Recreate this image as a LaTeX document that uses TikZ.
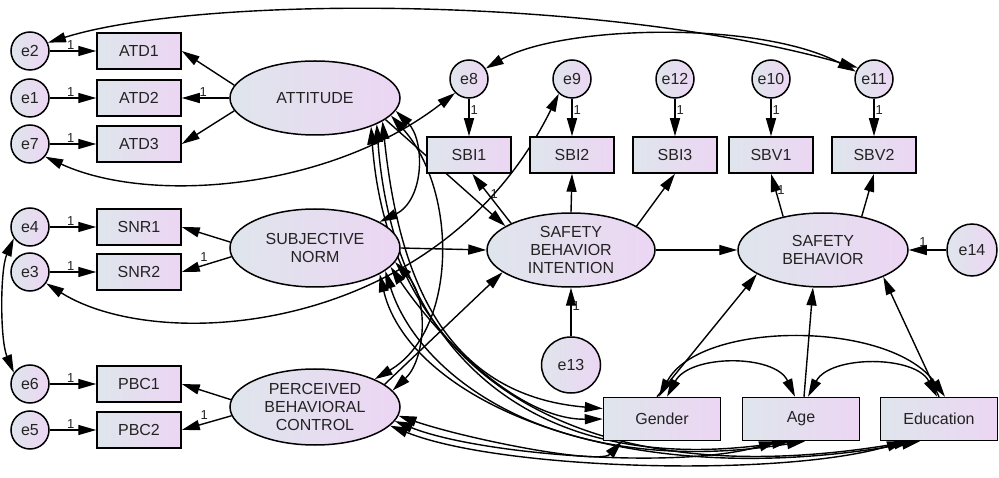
\documentclass[tikz,border=0pt]{standalone}
\usepackage{fontspec}
\setmainfont{Liberation Sans}
\usetikzlibrary{shapes.geometric,arrows.meta,calc}
\pgfdeclarelayer{bg}
\pgfsetlayers{bg,main}
\definecolor{lgray}{RGB}{223,229,236}
\definecolor{lpurp}{RGB}{236,214,243}
\definecolor{txt}{RGB}{35,35,35}
\begin{document}
\begin{tikzpicture}[x=1pt,y=-1pt,
  every node/.style={font=\fontsize{16}{18}\selectfont, text=txt},
  base/.style={draw=black, line width=1.5pt, left color=lgray, right color=lpurp, inner sep=0pt},
  errc/.style={base, ellipse, minimum width=38pt, minimum height=38pt},
  obs/.style={base, rectangle, minimum width=84pt, minimum height=36pt},
  demo/.style={base, rectangle, minimum width=117pt, minimum height=43pt},
  lat/.style={base, ellipse, minimum width=170pt, minimum height=74pt, align=center},
  arr/.style={line width=1.4pt, -{Triangle[length=18pt,width=10pt]}},
  biarr/.style={line width=1.4pt, {Triangle[length=18pt,width=10pt]}-{Triangle[length=18pt,width=10pt]}},
  one/.style={font=\fontsize{13}{14}\selectfont, inner sep=1pt},
]
\useasboundingbox (0,0) rectangle (999,478);

% left error terms and indicators
\node[errc] (e2) at (30,51) {e2};
\node[errc] (e1) at (30,98) {e1};
\node[errc] (e7) at (30,144) {e7};
\node[errc] (e4) at (30,227) {e4};
\node[errc] (e3) at (30,272) {e3};
\node[errc] (e6) at (30,384) {e6};
\node[errc] (e5) at (30,430) {e5};
\node[obs] (atd1) at (139,51) {ATD1};
\node[obs] (atd2) at (139,98) {ATD2};
\node[obs] (atd3) at (139,144) {ATD3};
\node[obs] (snr1) at (139,227) {SNR1};
\node[obs] (snr2) at (139,272) {SNR2};
\node[obs] (pbc1) at (139,384) {PBC1};
\node[obs] (pbc2) at (139,430) {PBC2};

% latents
\node[lat] (att) at (315,98) {ATTITUDE};
\node[lat, minimum height=78pt] (sn) at (315,248) {SUBJECTIVE\\NORM};
\node[lat, minimum height=76pt] (pbc) at (315,407) {PERCEIVED\\BEHAVIORAL\\CONTROL};
\node[lat, minimum width=168pt] (sbi) at (571,250) {SAFETY\\BEHAVIOR\\INTENTION};
\node[lat] (sb) at (823,250) {SAFETY\\BEHAVIOR};

% top error terms and indicators
\node[errc] (e8) at (469,79) {e8};
\node[errc] (e9) at (572,79) {e9};
\node[errc] (e12) at (675,79) {e12};
\node[errc] (e10) at (771,79) {e10};
\node[errc] (e11) at (874,79) {e11};
\node[obs] (sbi1) at (469,155) {SBI1};
\node[obs] (sbi2) at (572,155) {SBI2};
\node[obs] (sbi3) at (675,155) {SBI3};
\node[obs] (sbv1) at (771,155) {SBV1};
\node[obs] (sbv2) at (874,155) {SBV2};

\node[errc, minimum width=59pt, minimum height=56pt] (e13) at (571,365) {e13};
\node[errc, minimum width=50pt, minimum height=52pt] (e14) at (972,250) {e14};

\node[demo] (gender) at (662,419) {Gender};
\node[demo] (age) at (801,419) {Age};
\node[demo] (edu) at (939,419) {Education};

\coordinate (gB) at ($(gender.south)+(-40,0)$);
\coordinate (aB1) at ($(age.south)+(-24,0)$);
\coordinate (aB2) at ($(age.south)+(-11,0)$);
\coordinate (aB3) at ($(age.south)+(4,0)$);
\coordinate (eB1) at ($(edu.south)+(-34,0)$);
\coordinate (eB2) at ($(edu.south)+(-27,0)$);
\coordinate (eB3) at ($(edu.south)+(-19,0)$);

\begin{pgfonlayer}{bg}
% measurement errors
\draw[arr] (e2) -- node[one,pos=.45,above]{1} (atd1);
\draw[arr] (e1) -- node[one,pos=.45,above]{1} (atd2);
\draw[arr] (e7) -- node[one,pos=.45,above]{1} (atd3);
\draw[arr] (e4) -- node[one,pos=.45,above]{1} (snr1);
\draw[arr] (e3) -- node[one,pos=.45,above]{1} (snr2);
\draw[arr] (e6) -- node[one,pos=.45,above]{1} (pbc1);
\draw[arr] (e5) -- node[one,pos=.45,above]{1} (pbc2);
\draw[arr] (att.171) -- (atd1.east);
\draw[arr] (att.west) -- node[one,pos=.55,above]{1} (atd2.east);
\draw[arr] (att.189) -- (atd3.east);
\draw[arr] (sn.176) -- (snr1.east);
\draw[arr] (sn.186) -- node[one,pos=.55,above,yshift=2pt]{1} (snr2.east);
\draw[arr] (pbc.175) -- (pbc1.east);
\draw[arr] (pbc.186) -- node[one,pos=.55,above,yshift=2pt]{1} (pbc2.east);

\draw[arr] (e8) -- node[one,pos=.3,right]{1} (sbi1);
\draw[arr] (e9) -- node[one,pos=.3,right]{1} (sbi2);
\draw[arr] (e12) -- node[one,pos=.3,right]{1} (sbi3);
\draw[arr] (e10) -- node[one,pos=.3,right]{1} (sbv1);
\draw[arr] (e11) -- node[one,pos=.3,right]{1} (sbv2);
\draw[arr] (sbi.156) -- node[one,pos=.6,right,xshift=1pt]{1} (sbi1.-80);
\draw[arr] (sbi.north) -- (sbi2.south);
\draw[arr] (sbi.20) -- (sbi3.south);
\draw[arr] (sb.140) -- node[one,pos=.62,right]{1} (sbv1.south);
\draw[arr] (sb.41) -- (sbv2.south);

% structural paths
\draw[arr] (sbi) -- (sb);
\draw[arr] (e14) -- node[one,pos=.62,above,yshift=2pt]{1} (sb);
\draw[arr] (e13) -- node[one,pos=.62,right]{1} (sbi);
\draw[arr] (att.-17) -- (sbi.160);
\draw[arr] (sn.east) -- (sbi.west);
\draw[arr] (pbc.18) -- (sbi.198);
\draw[arr] ($(gender.north)+(-5,0)$) -- (sb.200);
\draw[arr] ($(age.north)+(3,0)$) -- (sb.255);
\draw[arr] (edu.north) -- (sb.-24);

% covariances among latents
\draw[biarr] (att.-9) .. controls (425,140) and (425,200) .. (sn.22);
\draw[biarr] (att.-13) .. controls (458,190) and (458,330) .. (pbc.25);
\draw[biarr] (sn.-10) .. controls (430,300) and (425,360) .. (pbc.12);
\draw[biarr] (att.-19) .. controls (398,270) and (440,395) .. (gender.170);
\draw[biarr] (att.-23) .. controls (392,340) and (520,480) .. (aB2);
\draw[biarr] (att.-27) .. controls (388,360) and (560,500) .. (eB2);
\draw[biarr] (sn.-14) .. controls (440,340) and (520,420) .. (gender.west);
\draw[biarr] (sn.-18) .. controls (420,380) and (560,480) .. (aB3);
\draw[biarr] (sn.-22) .. controls (410,400) and (620,495) .. (eB3);
\draw[biarr] (pbc.-6) .. controls (470,440) and (600,465) .. (gB);
\draw[biarr] (pbc.-10) .. controls (480,455) and (680,470) .. (aB1);
\draw[biarr] (pbc.-14) .. controls (500,470) and (780,478) .. (eB1);

% covariances among demographics
\draw[biarr] ($(gender.north)+(5,0)$) .. controls (690,354) and (775,354) .. ($(age.north)+(-6,0)$);
\draw[biarr] ($(age.north)+(7,0)$) .. controls (830,355) and (915,355) .. ($(edu.north)+(-2,0)$);
\draw[biarr] ($(gender.north)+(-3,0)$) .. controls (700,320) and (890,320) .. ($(edu.north)+(6,0)$);

% error covariances
\draw[biarr] (e2.25) .. controls (200,-5) and (600,-5) .. (e11.145);
\draw[biarr] (e8.32) .. controls (560,25) and (760,20) .. (e11.158);
\draw[biarr] (e7.-40) .. controls (150,205) and (330,190) .. (e8.225);
\draw[biarr] (e3.-35) .. controls (160,355) and (440,335) .. (e9.228);
\draw[biarr] (e4.215) .. controls (0,270) and (0,340) .. (e6.145);
\end{pgfonlayer}
\end{tikzpicture}
\end{document}
